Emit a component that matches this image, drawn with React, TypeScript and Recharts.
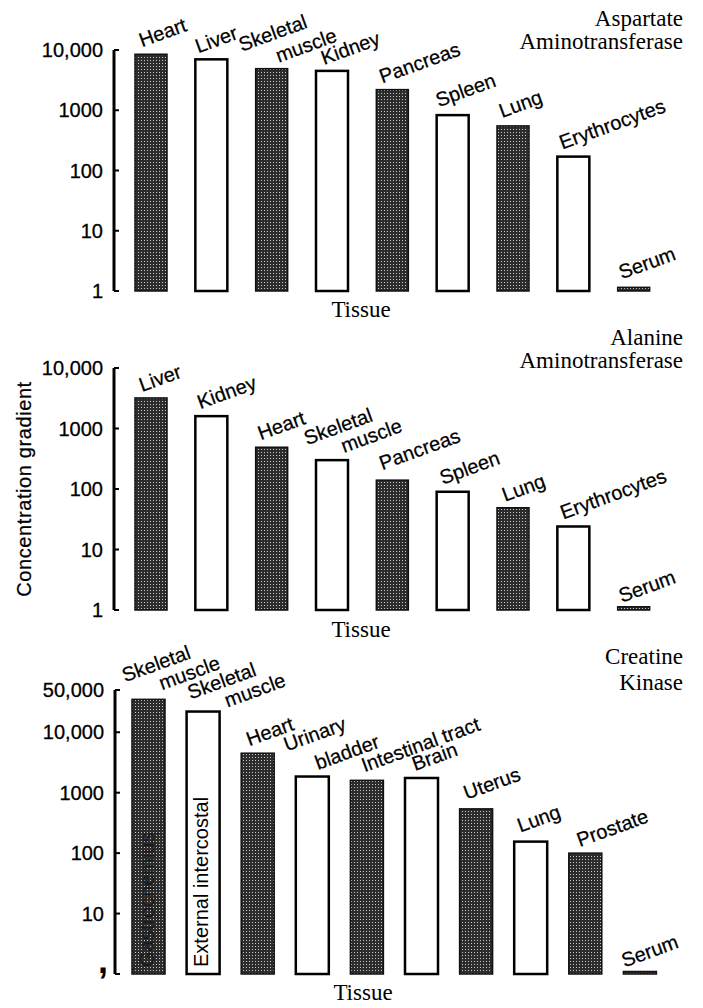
import React from 'react';
import { BarChart, Bar, XAxis, YAxis } from 'recharts';

// ---------- DATA ----------
const astCategories = ['Heart', 'Liver', 'Skeletal\nmuscle', 'Kidney', 'Pancreas', 'Spleen', 'Lung', 'Erythrocytes', 'Serum'];
const astValues = [8500, 7000, 4900, 4500, 2200, 830, 550, 170, 1.15];
const astShades = ['dark', 'light', 'dark', 'light', 'dark', 'light', 'dark', 'light', 'dark'];

const altCategories = ['Liver', 'Kidney', 'Heart', 'Skeletal\nmuscle', 'Pancreas', 'Spleen', 'Lung', 'Erythrocytes', 'Serum'];
const altValues = [3200, 1600, 490, 300, 140, 90, 49, 24, 1.13];
const altShades = ['dark', 'light', 'dark', 'light', 'dark', 'light', 'dark', 'light', 'dark'];

const ckCategories = ['Skeletal\nmuscle', 'Skeletal\nmuscle', 'Heart', 'Urinary\nbladder', 'Intestinal tract', 'Brain', 'Uterus', 'Lung', 'Prostate', 'Serum'];
const ckInnerLabels = ['Gastrocnemius', 'External intercostal', '', '', '', '', '', '', '', ''];
const ckValues = [35000, 22000, 4500, 1850, 1600, 1750, 540, 155, 100, 1.1];
const ckShades = ['dark', 'light', 'dark', 'light', 'dark', 'light', 'dark', 'light', 'dark', 'dark'];

const ticksSmall = [1, 10, 100, 1000, 10000];
const tickLabelsSmall = ['1', '10', '100', '1000', '10,000'];
const ticksLarge = [1, 10, 100, 1000, 10000, 50000];
const tickLabelsLarge = [',', '10', '100', '1000', '10,000', '50,000'];

const titleAst = ['Aspartate', 'Aminotransferase'];
const titleAlt = ['Alanine', 'Aminotransferase'];
const titleCk = ['Creatine', 'Kinase'];
const xAxisTitle = 'Tissue';
const yAxisTitle = 'Concentration gradient';

// ---------- LAYOUT (label nudges relative to each bar: [dx, dy, line2dx, line2dy]) ----------
const astNudges = [[7, -7], [3, -6], [-14, -17, 31, 23], [8, -6], [6, -6], [2, -8], [5, -8], [5, -7], [4, -8]];
const altNudges = [[7, -6], [5, -7], [5, -7], [-9, -15, 32, 20], [6, -10], [6, -7], [8, -6], [6, -7], [4, -4]];
const ckNudges = [[-7, -17, 32, 20], [4, -12, 32, 20], [8, -7], [-9, -25, 23, 28], [14, -8], [10, -7], [7, -9], [6, -9], [11, -6], [1, -4]];

const SANS = '"Liberation Sans", Arial, Helvetica, sans-serif';
const SERIF = '"Liberation Serif", "Times New Roman", Times, serif';

function makeTick(ticks: number[], labels: string[]) {
  return (p: any) => {
    const { x, y, payload } = p;
    const i = ticks.indexOf(payload.value);
    const label = i >= 0 ? labels[i] : String(payload.value);
    return (
      <g>
        <line x1={x} x2={x + 5} y1={y} y2={y} stroke="#000" strokeWidth={2} />
        {label === ',' ? (
          <text x={x - 7} y={y - 1} textAnchor="end" fontFamily={SANS} fontWeight="bold" fontSize={36} fill="#000">
            {label}
          </text>
        ) : (
          <text x={x - 11} y={y} dy="0.36em" textAnchor="end" fontFamily={SANS} fontSize={20} fill="#000" stroke="#000" strokeWidth={0.3}>
            {label}
          </text>
        )}
      </g>
    );
  };
}

function makeShape(cats: string[], shades: string[], nudges: number[][], inner?: string[]) {
  return (p: any) => {
    const { x, y, width, height, index } = p;
    const dark = shades[index] === 'dark';
    const lines = cats[index].split('\n');
    const n = nudges[index] || [6, -7];
    const lx = x + n[0];
    const ly = y + n[1];
    const innerLabel = inner ? inner[index] : '';
    return (
      <g>
        <rect
          x={x}
          y={y}
          width={width}
          height={height}
          fill={dark ? 'url(#stipple)' : '#fff'}
          stroke={dark ? '#111' : '#000'}
          strokeWidth={dark ? 1.5 : 2.5}
        />
        <text
          transform={`translate(${lx},${ly}) rotate(-20)`}
          fontFamily={SANS}
          fontSize={20}
          fill="#000"
          stroke="#000"
          strokeWidth={0.25}
        >
          <tspan x={0} y={0}>{lines[0]}</tspan>
          {lines[1] ? (
            <tspan x={n[2] ?? 30} y={n[3] ?? 21}>{lines[1]}</tspan>
          ) : null}
        </text>
        {innerLabel ? (
          <text
            transform={`translate(${x + width / 2 + 5},${y + height - 7}) rotate(-90)`}
            fontFamily={SANS}
            fontSize={20}
            fill={dark ? '#1a1a1a' : '#000'}
          >
            {innerLabel}
          </text>
        ) : null}
      </g>
    );
  };
}

type PanelProps = {
  cats: string[];
  values: number[];
  shades: string[];
  nudges: number[][];
  inner?: string[];
  ticks: number[];
  tickLabels: string[];
  domain: [number, number];
  top: number;
  height: number;
  margin: { top: number; right: number; bottom: number; left: number };
  padding: { left: number; right: number };
  barSize: number;
};

function Panel(props: PanelProps) {
  const { cats, values, shades, nudges, inner, ticks, tickLabels, domain, top, height, margin, padding, barSize } = props;
  const data = cats.map((c, i) => ({ name: c + '#' + i, value: values[i] }));
  return (
    <div style={{ position: 'absolute', left: 0, top, width: 703, height }}>
      <BarChart width={703} height={height} data={data} margin={margin} style={{ overflow: 'visible' }}>
        <XAxis
          dataKey="name"
          tick={false}
          tickLine={false}
          axisLine={{ stroke: '#000', strokeWidth: 3 }}
          height={0}
          padding={padding}
        />
        <YAxis
          type="number"
          scale="log"
          domain={domain}
          ticks={ticks}
          interval={0}
          width={100}
          tickSize={0}
          tickMargin={0}
          tickLine={false}
          axisLine={{ stroke: '#000', strokeWidth: 3 }}
          tick={makeTick(ticks, tickLabels)}
        />
        <Bar dataKey="value" isAnimationActive={false} barSize={barSize} shape={makeShape(cats, shades, nudges, inner)} />
      </BarChart>
    </div>
  );
}

function TitleBlock({ lines, y1, y2 }: { lines: string[]; y1: number; y2: number }) {
  return (
    <text textAnchor="end" fontFamily={SERIF} fontSize={23} fill="#000">
      <tspan x={683} y={y1}>{lines[0]}</tspan>
      <tspan x={683} y={y2}>{lines[1]}</tspan>
    </text>
  );
}

export default function App() {
  return (
    <div style={{ position: 'absolute', left: 0, top: 0, width: 703, height: 1008, background: '#fff', overflow: 'hidden' }}>
      <svg width={0} height={0} style={{ position: 'absolute' }}>
        <defs>
          <pattern id="stipple" width="3" height="3" patternUnits="userSpaceOnUse">
            <rect width="3" height="3" fill="#2c2c2c" />
            <rect width="1" height="1" fill="#c8c8c8" />
          </pattern>
        </defs>
      </svg>

      <Panel
        cats={astCategories}
        values={astValues}
        shades={astShades}
        nudges={astNudges}
        ticks={ticksSmall}
        tickLabels={tickLabelsSmall}
        domain={[1, 10000]}
        top={0}
        height={320}
        margin={{ top: 50, right: 18, bottom: 29, left: 14 }}
        padding={{ left: 7, right: 21 }}
        barSize={32}
      />
      <Panel
        cats={altCategories}
        values={altValues}
        shades={altShades}
        nudges={altNudges}
        ticks={ticksSmall}
        tickLabels={tickLabelsSmall}
        domain={[1, 10000]}
        top={320}
        height={320}
        margin={{ top: 48, right: 18, bottom: 30, left: 14 }}
        padding={{ left: 7, right: 21 }}
        barSize={32}
      />
      <Panel
        cats={ckCategories}
        values={ckValues}
        shades={ckShades}
        nudges={ckNudges}
        inner={ckInnerLabels}
        ticks={ticksLarge}
        tickLabels={tickLabelsLarge}
        domain={[1, 50000]}
        top={640}
        height={368}
        margin={{ top: 50, right: 20, bottom: 34, left: 15 }}
        padding={{ left: 6, right: 16 }}
        barSize={33}
      />

      <svg width={703} height={1008} style={{ position: 'absolute', left: 0, top: 0, pointerEvents: 'none' }}>
        <TitleBlock lines={titleAst} y1={26} y2={49} />
        <TitleBlock lines={titleAlt} y1={345} y2={368} />
        <TitleBlock lines={titleCk} y1={664} y2={690} />
        <text x={361} y={317} textAnchor="middle" fontFamily={SERIF} fontSize={23} fill="#000">{xAxisTitle}</text>
        <text x={361} y={637} textAnchor="middle" fontFamily={SERIF} fontSize={23} fill="#000">{xAxisTitle}</text>
        <text x={363} y={1000} textAnchor="middle" fontFamily={SERIF} fontSize={23} fill="#000">{xAxisTitle}</text>
        <text
          transform="translate(31,489) rotate(-90)"
          textAnchor="middle"
          fontFamily={SANS}
          fontSize={20}
          letterSpacing={0.6}
          fill="#000"
          stroke="#000"
          strokeWidth={0.25}
        >
          {yAxisTitle}
        </text>
      </svg>
    </div>
  );
}
